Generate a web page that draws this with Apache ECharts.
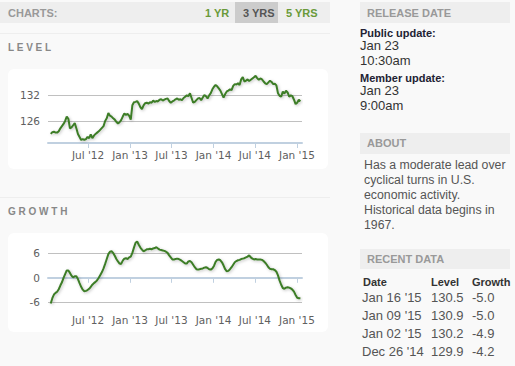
<!DOCTYPE html>
<html>
<head>
<meta charset="utf-8">
<script src="https://cdn.jsdelivr.net/npm/echarts@6/dist/echarts.min.js"></script>
<style>
html,body{margin:0;padding:0;background:#f9f9f9;}
#main{width:515px;height:366px;}
</style>
</head>
<body>
<div id="main"></div>
<script>
// Weekly observations, first week ending Fri Jan 20 2012, last Jan 16 2015
var firstWeek = '2012-01-20';
var levelValues = [
123.0,123.4,123.5,123.3,123.3,123.6,124.3,124.8,125.3,126.0,
127.0,126.5,124.3,124.5,125.0,125.5,124.3,123.0,122.3,121.6,
121.8,121.6,121.8,122.3,122.0,122.9,122.0,122.6,123.0,123.3,
123.6,124.0,124.4,124.8,126.0,126.6,127.8,127.2,127.0,126.6,
126.3,125.8,125.4,125.7,126.2,127.0,127.7,127.4,127.6,127.2,
126.3,129.6,130.3,130.4,130.6,130.0,129.2,128.7,129.6,130.1,
130.2,130.0,130.3,130.2,130.7,130.4,130.6,130.5,130.9,131.0,
130.7,130.9,131.1,131.2,130.6,130.2,130.5,130.7,131.0,131.2,
130.9,131.0,130.8,131.3,131.6,131.9,131.7,132.4,131.3,130.2,
130.4,130.8,131.2,131.3,130.8,131.4,132.0,131.7,131.2,131.9,
132.4,133.3,133.9,134.3,134.0,133.5,133.0,132.2,131.4,132.2,
132.8,133.0,133.3,133.1,134.1,134.5,134.4,134.7,134.3,135.6,
136.1,135.1,135.3,135.6,135.2,135.5,135.8,136.1,136.4,135.9,
135.5,135.8,135.6,135.1,134.7,134.5,134.9,135.3,135.0,134.5,
134.6,134.2,132.4,131.8,131.6,132.8,132.3,133.0,132.6,131.6,
131.9,131.7,130.9,129.9,130.2,130.9,130.5
];
var growthValues = [
-6.3,-5.0,-4.1,-3.7,-3.4,-2.8,-1.9,-1.1,0.0,0.9,
1.8,1.8,1.2,0.5,0.1,0.4,0.4,-0.3,-1.3,-2.2,
-2.9,-3.3,-3.2,-3.0,-2.7,-2.2,-1.7,-1.3,-1.0,-0.6,
0.0,0.7,1.4,2.3,3.4,4.6,5.8,6.4,6.5,6.1,
5.4,4.6,4.0,3.5,3.4,4.2,4.7,4.8,4.6,5.0,
5.2,6.1,7.4,8.6,8.9,8.1,7.4,6.9,6.5,6.7,
7.0,7.0,7.1,7.0,7.2,7.3,7.5,7.2,6.9,6.8,
6.7,6.6,6.4,6.1,5.5,5.0,4.5,4.5,4.6,4.7,
4.6,4.4,4.1,3.8,3.5,3.5,4.0,4.1,3.8,3.2,
2.6,2.1,2.0,2.1,2.2,2.3,2.5,2.6,2.4,2.1,
2.0,2.3,2.9,3.9,4.4,4.5,4.3,3.8,3.0,2.1,
1.6,1.7,2.1,2.6,3.2,3.8,4.1,4.3,4.4,4.6,
4.7,4.8,5.0,5.2,5.5,5.0,4.7,4.5,4.6,4.5,
4.5,4.5,4.4,4.1,3.7,3.2,2.6,2.2,2.1,2.1,
1.9,1.5,0.6,-0.7,-1.7,-2.5,-2.7,-2.4,-2.3,-2.4,
-2.6,-2.9,-3.4,-4.2,-4.9,-5.0,-5.0
];
var xTickDates = ['2012-07-01','2013-01-01','2013-07-01','2014-01-01','2014-07-01','2015-01-01'];
var levelTicks = [126, 132];
var growthTicks = [-6, 0, 6];
var recentDates = ["Jan 16 '15", "Jan 09 '15", "Jan 02 '15", "Dec 26 '14"];
var recentLevel = ['130.5', '130.9', '130.2', '129.9'];
var recentGrowth = ['-5.0', '-5.0', '-4.9', '-4.2'];
var aboutLines = ['Has a moderate lead over', 'cyclical turns in U.S.', 'economic activity.', 'Historical data begins in', '1967.'];

function ts(s){ var p = s.split('-'); return Date.UTC(+p[0], +p[1]-1, +p[2]); }
var t0 = ts(firstWeek), WEEK = 7*86400000;
var levelData = levelValues.map(function(v,i){ return [t0 + i*WEEK, v]; });
var growthData = growthValues.map(function(v,i){ return [t0 + i*WEEK, v]; });
var xTicks = xTickDates.map(ts);
var xMin = ts('2012-01-08'), xMax = ts('2015-01-23');
var MON = ['Jan','Feb','Mar','Apr','May','Jun','Jul','Aug','Sep','Oct','Nov','Dec'];
function fmtX(v){ var d = new Date(v); return MON[d.getUTCMonth()] + " '" + String(d.getUTCFullYear()).slice(2); }

var AX = '#c0d0e0', GRID = '#c0c0c0', LAB = '#606060', GREEN = '#3d7d28';
var tickFont = {color: LAB, fontFamily: 'DejaVu Sans', fontSize: 10.5};

function xAxis(gi){
  return {type:'value', gridIndex: gi, min: xMin, max: xMax,
    axisLine:{show:true, lineStyle:{color:AX, width:2}},
    axisTick:{show:true, length:5, lineStyle:{color:AX, width:1}, customValues: xTicks},
    axisLabel: Object.assign({customValues: xTicks, formatter: fmtX, margin: 6}, tickFont),
    splitLine:{show:false}};
}
function yAxis(gi, min, max, ticks){
  return {type:'value', gridIndex: gi, min: min, max: max,
    axisLine:{show:false},
    axisTick:{show:false, customValues: ticks},
    axisLabel: Object.assign({customValues: ticks, margin: 8}, tickFont),
    splitLine:{show:true, lineStyle:{color:GRID, width:1}}};
}
function lineSeries(xi, data){
  return {type:'line', xAxisIndex: xi, yAxisIndex: xi, data: data, showSymbol:false, symbol:'none',
    lineStyle:{color: GREEN, width: 2, shadowColor:'rgba(0,0,0,0.25)', shadowBlur:3, shadowOffsetY:1, shadowOffsetX:1},
    animation:false};
}

var headFont = 'bold 11px "Liberation Sans", Arial, sans-serif';
var graphics = [];
function rect(x,y,w,h,fill,r){ graphics.push({type:'rect', z:-10, silent:true, shape:{x:x,y:y,width:w,height:h,r:r||0}, style:{fill:fill}}); }
function text(x,y,str,font,color,align,extra){
  var st = Object.assign({x:x, y:y, text:str, font:font, fill:color, align:align||'left', verticalAlign:'middle'}, extra||{});
  graphics.push({type:'text', z:5, silent:true, style: st});
}
// left column
rect(0,2,330,21,'#eeeeee');
text(8,13,'CHARTS:',headFont,'#999999');
text(205,13,'1 YR',headFont,'#6a9a3a');
rect(235,2,43,21,'#cccccc');
text(243,13,'3 YRS',headFont,'#555555');
text(286,13,'5 YRS',headFont,'#6a9a3a');
rect(0,33,330,1,'#eeeeee');
text(8,47,'L E V E L','bold 10px "Liberation Sans", Arial, sans-serif','#888888');
rect(8,69,320,100,'#ffffff',6);
rect(0,197,330,1,'#eeeeee');
text(8,211,'G R O W T H','bold 10px "Liberation Sans", Arial, sans-serif','#888888');
rect(8,233,320,99,'#ffffff',6);
// right column
var bodyFont = '13px "Liberation Sans", Arial, sans-serif';
var aboutFont = '12.3px "Liberation Sans", Arial, sans-serif';
var boldSmall = 'bold 11px "Liberation Sans", Arial, sans-serif';
rect(360,2,150,21,'#eeeeee');
text(367,13,'RELEASE DATE',headFont,'#999999');
text(360,33,'Public update:',boldSmall,'#222233');
text(360,45,'Jan 23',bodyFont,'#333333');
text(360,60,'10:30am',bodyFont,'#333333');
text(360,78,'Member update:',boldSmall,'#222233');
text(360,90,'Jan 23',bodyFont,'#333333');
text(360,105,'9:00am',bodyFont,'#333333');
rect(360,133,150,21,'#eeeeee');
text(367,143,'ABOUT',headFont,'#999999');
aboutLines.forEach(function(s,i){ text(364,164.5+i*15.1,s,aboutFont,'#555555'); });
rect(360,249,150,20,'#eeeeee');
text(367,259,'RECENT DATA',headFont,'#999999');
text(363,282,'Date',boldSmall,'#333333');
text(431,282,'Level',boldSmall,'#333333');
text(472,282,'Growth',boldSmall,'#333333');
recentDates.forEach(function(d,i){
  var y = 297.5 + i*18;
  text(362,y,d,bodyFont,'#555555');
  text(431,y,recentLevel[i],bodyFont,'#555555');
  text(472,y,recentGrowth[i],bodyFont,'#555555');
});

var chart = echarts.init(document.getElementById('main'), null, {renderer:'svg', width:515, height:366});
chart.setOption({
  backgroundColor:'#f9f9f9',
  animation:false,
  graphic: graphics,
  grid:[
    {left:48, right:213, top:72, bottom:223, containLabel:false},
    {left:48, right:213, top:237, bottom:58, containLabel:false}
  ],
  xAxis:[xAxis(0), xAxis(1)],
  yAxis:[yAxis(0,120.9,137.3,levelTicks), yAxis(1,-7.4,10,growthTicks)],
  series:[lineSeries(0, levelData), lineSeries(1, growthData)]
});
</script>
</body>
</html>
